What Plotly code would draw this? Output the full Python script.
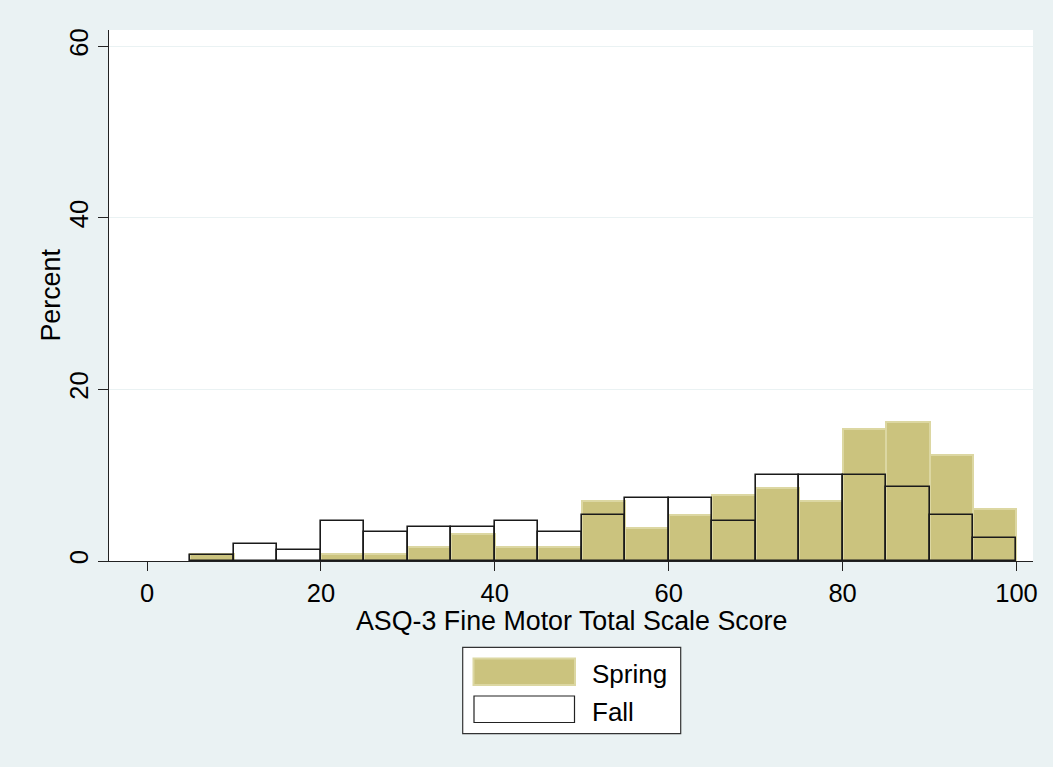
import plotly.graph_objects as go

# ---- data ----
bin_starts = [5, 10, 15, 20, 25, 30, 35, 40, 45, 50, 55, 60, 65, 70, 75, 80, 85, 90, 95]
bin_width = 5
spring_pct = [0.8, 0, 0, 0.87, 0.87, 1.65, 3.15, 1.6, 1.6, 6.95, 3.8, 5.4, 7.7, 8.5, 6.95, 15.4, 16.2, 12.3, 6.1]
fall_pct = [0.67, 2.0, 1.33, 4.67, 3.33, 4.0, 4.0, 4.67, 3.33, 5.33, 7.33, 7.33, 4.67, 10.0, 10.0, 10.0, 8.67, 5.33, 2.67]
x_ticks = [0, 20, 40, 60, 80, 100]
y_ticks = [0, 20, 40, 60]
series_names = ["Spring", "Fall"]
x_title = "ASQ-3 Fine Motor Total Scale Score"
y_title = "Percent"

centers = [b + bin_width / 2 for b in bin_starts]

W, H = 1053, 767
L, R, T, B = 109, 20, 30, 206
PW, PH = W - L - R, H - T - B

def px(x):
    return (x - L) / PW

def py(y):
    return (H - B - y) / PH

FONT = "Liberation Sans, Arial, sans-serif"
FS = 25.5
FS_TITLE = 26.8
FS_LEG = 26
KHAKI = "#CBC37E"
KHAKI_LINE = "#DCD7A2"
BG = "#EAF2F3"

fig = go.Figure()
fig.add_trace(go.Bar(
    x=centers, y=spring_pct, width=bin_width, name=series_names[0],
    marker=dict(color=KHAKI, line=dict(color=KHAKI_LINE, width=2)),
    showlegend=False,
))
fig.add_trace(go.Bar(
    x=centers, y=fall_pct, width=bin_width, name=series_names[1],
    marker=dict(color="rgba(0,0,0,0)", line=dict(color="#1a1a1a", width=1.6)),
    showlegend=False,
))

fig.update_layout(
    width=W, height=H,
    margin=dict(l=L, r=R, t=T, b=B, pad=0),
    paper_bgcolor=BG, plot_bgcolor="white",
    barmode="overlay", bargap=0,
    font=dict(family=FONT, size=FS, color="black"),
    xaxis=dict(
        range=[-4.37, 101.9], tickmode="array", tickvals=x_ticks,
        ticks="outside", ticklen=9, tickwidth=1.2, tickcolor="#222",
        showline=True, linecolor="#222", linewidth=1.2,
        showgrid=False, zeroline=False,
        tickfont=dict(family=FONT, size=FS, color="black"),
    ),
    yaxis=dict(
        range=[0, 61.9], tickmode="array", tickvals=y_ticks,
        ticks="outside", ticklen=10, tickwidth=1.2, tickcolor="#222",
        showline=True, linecolor="#222", linewidth=1.2,
        showgrid=True, gridcolor=BG, gridwidth=1.2, zeroline=False,
        tickangle=-90,
        tickfont=dict(family=FONT, size=FS, color="black"),
    ),
)

# axis titles
fig.add_annotation(text=x_title, xref="paper", yref="paper",
                   x=0.5, y=py(621), xanchor="center", yanchor="middle",
                   showarrow=False, font=dict(family=FONT, size=FS_TITLE, color="black"))
fig.add_annotation(text=y_title, xref="paper", yref="paper",
                   x=px(50), y=0.5, xanchor="center", yanchor="middle", textangle=-90,
                   showarrow=False, font=dict(family=FONT, size=FS_TITLE, color="black"))

# legend box (drawn manually, Stata-style)
fig.add_shape(type="rect", xref="paper", yref="paper",
              x0=px(462.7), x1=px(680.7), y0=py(647.3), y1=py(733.7),
              fillcolor="white", line=dict(color="#333", width=1.2))
fig.add_shape(type="rect", xref="paper", yref="paper",
              x0=px(473.5), x1=px(575), y0=py(658.5), y1=py(685),
              fillcolor=KHAKI, line=dict(color=KHAKI_LINE, width=2))
fig.add_shape(type="rect", xref="paper", yref="paper",
              x0=px(474), x1=px(574.5), y0=py(696), y1=py(722.5),
              fillcolor="white", line=dict(color="#222", width=1.2))
fig.add_annotation(text=series_names[0], xref="paper", yref="paper",
                   x=px(590), y=py(674), xanchor="left", yanchor="middle",
                   showarrow=False, font=dict(family=FONT, size=FS_LEG, color="black"))
fig.add_annotation(text=series_names[1], xref="paper", yref="paper",
                   x=px(590), y=py(712), xanchor="left", yanchor="middle",
                   showarrow=False, font=dict(family=FONT, size=FS_LEG, color="black"))

fig.write_html("out.html", config={"displayModeBar": False},
               post_script="document.body.style.margin='0';")
